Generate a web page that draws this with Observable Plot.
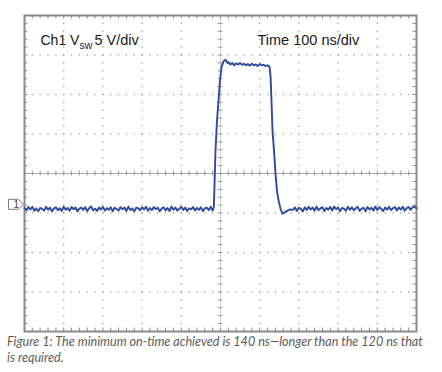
<!DOCTYPE html>
<html>
<head>
<meta charset="utf-8">
<script src="https://cdn.jsdelivr.net/npm/d3@7"></script>
<script src="https://cdn.jsdelivr.net/npm/@observablehq/plot@0.6"></script>
<style>
  html, body { margin: 0; padding: 0; background: #fff; }
  #chart svg { display: block; }
  .cap { font-family: Lato, "Open Sans", sans-serif; font-style: italic; font-weight: 400;
         font-size: 12.6px; line-height: 15.5px; color: #5c5c5c; padding-left: 7px; white-space: nowrap; }
</style>
</head>
<body>
<div id="chart"></div>
<div class="cap">Figure 1: The minimum on-time achieved is 140 ns—longer than the 120 ns that<br>is required.</div>
<script>
// ---- scope settings (axis graduations) ----
const timeTicks = [-500, -400, -300, -200, -100, 0, 100, 200, 300, 400, 500]; // ns, 100 ns/div
const voltTicks = [-15.5, -10.5, -5.5, -0.5, 4.5, 9.5, 14.5, 19.5, 24.5];      // V, 5 V/div
const centerTime = 0;
const centerVolt = 4.5;
const groundMarker = 0.6;
const chLabel = "Ch1 V";
const chSub = "sw";
const chScale = "5 V/div";
const timeLabel = "Time 100 ns/div";

// ---- Ch1 trace: time (ns) and voltage (V) ----
const baseTimeA = [-500,-495,-490,-485,-480,-475,-470,-465,-460,-455,-450,-445,-440,-435,-430,-425,-420,-415,-410,-405,
  -400,-395,-390,-385,-380,-375,-370,-365,-360,-355,-350,-345,-340,-335,-330,-325,-320,-315,-310,-305,
  -300,-295,-290,-285,-280,-275,-270,-265,-260,-255,-250,-245,-240,-235,-230,-225,-220,-215,-210,-205,
  -200,-195,-190,-185,-180,-175,-170,-165,-160,-155,-150,-145,-140,-135,-130,-125,-120,-115,-110,-105,
  -100,-95,-90,-85,-80,-75,-70,-65,-60,-55,-50,-45,-40,-35,-30,-25,-20];
const baseVoltA = [0.12,-0.18,0.25,-0.05,0.3,-0.22,0.08,-0.28,0.15,0.02,
  -0.2,0.28,-0.1,0.18,-0.3,0.05,0.22,-0.15,0.1,-0.25,
  0.3,-0.08,0.14,-0.22,0.26,-0.02,0.2,-0.3,0.06,0.18,
  -0.12,0.24,-0.26,0.1,0.32,-0.16,0.04,-0.24,0.2,-0.06,
  0.28,-0.2,0.12,-0.1,0.22,-0.28,0.16,0.02,-0.18,0.26,
  -0.04,0.2,-0.24,0.3,-0.12,0.08,-0.3,0.18,0.1,-0.16,
  0.24,-0.06,0.3,-0.22,0.12,-0.14,0.26,-0.02,0.16,-0.28,
  0.06,0.22,-0.18,0.14,-0.26,0.32,-0.08,0.18,-0.2,0.04,
  0.28,-0.12,0.2,-0.24,0.1,-0.04,0.26,-0.18,0.14,-0.1,
  0.22,-0.26,0.08,0.18,-0.14,0.3,-0.2];
const pulseTime = [-17,-15.3,-12.8,-8.9,-5.1,-1.3,2.6,7.7,12.8,17.9,
  20,25,30,35,40,45,50,55,60,65,70,75,80,85,90,95,100,105,110,115,120,
  125,127.6,130.1,132.7,136.5,140.3,144.1,148,153,158,163,171,178.6];
const pulseVolt = [0.2,3.0,7.4,11.2,13.7,16.3,18.0,18.7,18.9,18.5,
  18.6,18.3,18.5,18.2,18.45,18.3,18.5,18.25,18.4,18.2,18.35,18.15,18.4,18.2,18.3,18.1,18.35,18.2,18.25,18.1,18.2,
  18.0,16.9,13.7,9.9,7.4,4.5,2.3,1.1,0.06,-0.6,-0.45,-0.2,-0.05];
const baseTimeB = [185,190,195,200,205,210,215,220,225,230,235,240,245,250,255,260,265,270,275,280,
  285,290,295,300,305,310,315,320,325,330,335,340,345,350,355,360,365,370,375,380,
  385,390,395,400,405,410,415,420,425,430,435,440,445,450,455,460,465,470,475,480,
  485,490,495,500];
const baseVoltB = [-0.1,0.2,-0.25,0.15,0.05,-0.3,0.22,-0.12,0.28,-0.05,
  0.18,-0.2,0.3,-0.14,0.08,0.24,-0.26,0.12,-0.08,0.26,
  -0.18,0.32,-0.02,0.2,-0.28,0.14,0.06,-0.22,0.3,-0.1,
  0.22,-0.16,0.1,0.28,-0.24,0.04,0.18,-0.3,0.26,-0.06,
  0.16,-0.2,0.32,-0.12,0.24,0.02,-0.26,0.2,-0.08,0.3,
  -0.14,0.1,0.26,-0.18,0.2,-0.06,0.3,-0.22,0.12,0.26,
  -0.1,0.22,0.34,0.1];

const traceTime = [...baseTimeA, ...pulseTime, ...baseTimeB];
const traceVolt = [...baseVoltA, ...pulseVolt, ...baseVoltB];
const trace = traceTime.map((t, i) => ({t, v: traceVolt[i]}));

// graduations
const tMin = timeTicks[0], tMax = timeTicks[timeTicks.length - 1];
const vMin = voltTicks[0], vMax = voltTicks[voltTicks.length - 1];
const minorT = d3.range(tMin, tMax + 1e-6, (timeTicks[1] - timeTicks[0]) / 5);
const minorV = d3.range(vMin, vMax + 1e-6, (voltTicks[1] - voltTicks[0]) / 5);
const innerT = timeTicks.slice(1, -1).filter(t => t !== centerTime);
const innerV = voltTicks.slice(1, -1).filter(v => v !== centerVolt);
const innerMinorT = minorT.slice(1, -1);
const innerMinorV = minorV.slice(1, -1);
const gridDots = [
  ...innerV.flatMap(v => innerMinorT.map(t => ({t, v}))),
  ...innerT.flatMap(t => innerMinorV.map(v => ({t, v})))
];

const tPx = (tMax - tMin) / 392;  // ns per pixel
const vPx = (vMax - vMin) / 316;  // V per pixel

const markerSymbol = {
  draw(ctx) {
    ctx.moveTo(-16, -5); ctx.lineTo(-6, -5); ctx.lineTo(-1, 0);
    ctx.lineTo(-6, 5); ctx.lineTo(-16, 5); ctx.closePath();
  }
};

const font = "Liberation Sans, Arial, sans-serif";
const gridColor = "#9a9a9a";
const chart = Plot.plot({
  width: 442,
  height: 334,
  marginLeft: 24,
  marginRight: 26,
  marginTop: 15,
  marginBottom: 3,
  x: {domain: [tMin, tMax], axis: null},
  y: {domain: [vMin, vMax], axis: null},
  style: {background: "#fff"},
  marks: [
    Plot.dot(gridDots, {x: "t", y: "v", r: 0.75, fill: gridColor, stroke: null}),
    Plot.ruleY([centerVolt], {stroke: "#a8a8a8", strokeWidth: 1}),
    Plot.ruleX([centerTime], {stroke: "#cfcfcf", strokeWidth: 1}),
    Plot.ruleX(innerMinorT, {x: d => d, y1: centerVolt - 2.5 * vPx, y2: centerVolt + 2.5 * vPx, stroke: gridColor}),
    Plot.ruleY(innerMinorV, {y: d => d, x1: centerTime - 2.5 * tPx, x2: centerTime + 2.5 * tPx, stroke: gridColor}),
    Plot.ruleX(innerMinorT, {x: d => d, y1: vMin, y2: vMin + 3.5 * vPx, stroke: "#8c8c8c"}),
    Plot.ruleX(innerMinorT, {x: d => d, y1: vMax - 3.5 * vPx, y2: vMax, stroke: "#8c8c8c"}),
    Plot.ruleY(innerMinorV, {y: d => d, x1: tMin, x2: tMin + 3.5 * tPx, stroke: "#8c8c8c"}),
    Plot.ruleY(innerMinorV, {y: d => d, x1: tMax - 3.5 * tPx, x2: tMax, stroke: "#8c8c8c"}),
    Plot.frame({stroke: "#8a8a8a", strokeWidth: 2}),
    Plot.line(trace, {x: "t", y: "v", stroke: "#2f4c9b", strokeWidth: 1.9, strokeLinejoin: "round"}),
    Plot.dot([groundMarker], {y: d => d, frameAnchor: "left", symbol: markerSymbol, fill: "#fff", stroke: "#7a7a7a", strokeWidth: 1}),
    Plot.text([groundMarker], {y: d => d, frameAnchor: "left", text: () => "1", dx: -11, fontSize: 10, fill: "#444", fontFamily: font}),
    Plot.text([chLabel], {text: d => d, frameAnchor: "top-left", dx: 16, dy: 19.5, textAnchor: "start", fontSize: 14, fill: "#1a1a1a", fontFamily: font}),
    Plot.text([chSub], {text: d => d, frameAnchor: "top-left", dx: 55, dy: 26, textAnchor: "start", fontSize: 10.5, fill: "#1a1a1a", fontFamily: font}),
    Plot.text([chScale], {text: d => d, frameAnchor: "top-left", dx: 70, dy: 19.5, textAnchor: "start", fontSize: 14.5, fill: "#1a1a1a", fontFamily: font}),
    Plot.text([timeLabel], {text: d => d, frameAnchor: "top-left", dx: 233, dy: 19.5, textAnchor: "start", fontSize: 14.5, fill: "#1a1a1a", fontFamily: font})
  ]
});
document.getElementById("chart").appendChild(chart);
</script>
</body>
</html>
